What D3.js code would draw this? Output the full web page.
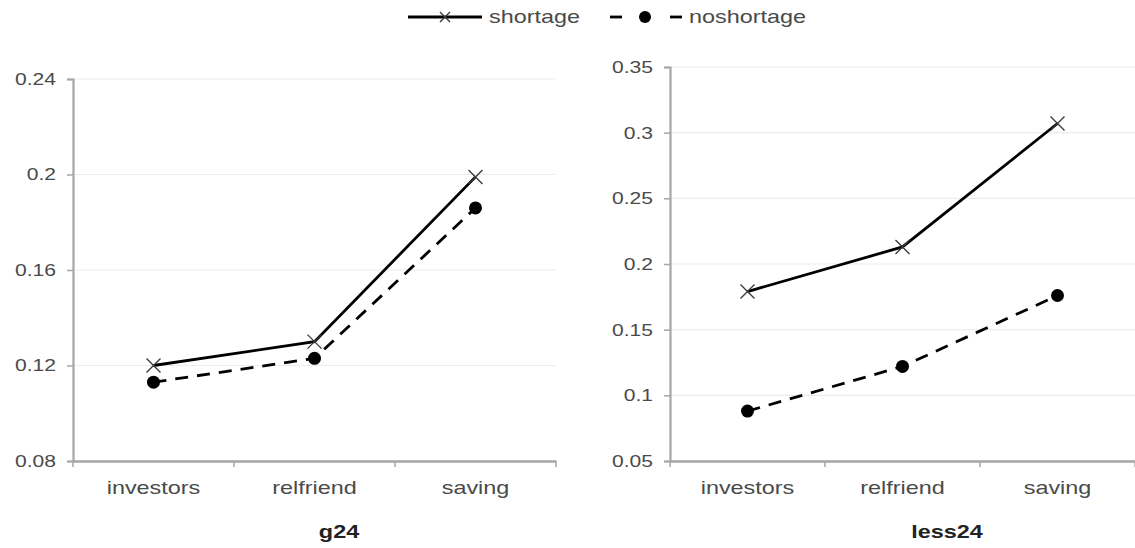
<!DOCTYPE html>
<html>
<head>
<meta charset="utf-8">
<script src="https://cdn.jsdelivr.net/npm/d3@7"></script>
<style>
  html, body { margin: 0; padding: 0; background: #fff; }
  svg { display: block; font-family: "Liberation Sans", Arial, sans-serif; }
</style>
</head>
<body>
<svg id="chart" width="1135" height="548"></svg>
<script>
const categories = ["investors", "relfriend", "saving"];
const seriesNames = ["shortage", "noshortage"];
const panelTitles = ["g24", "less24"];
const g24Shortage = [0.120, 0.130, 0.199];
const g24NoShortage = [0.113, 0.123, 0.186];
const less24Shortage = [0.179, 0.213, 0.307];
const less24NoShortage = [0.088, 0.122, 0.176];
const g24Ticks = [0.08, 0.12, 0.16, 0.2, 0.24];
const less24Ticks = [0.05, 0.1, 0.15, 0.2, 0.25, 0.3, 0.35];

const svg = d3.select("#chart");

const panels = [
  { title: panelTitles[0], s: g24Shortage, n: g24NoShortage, ticks: g24Ticks,
    domain: [0.08, 0.24], x0: 73, x1: 556, y0: 461, y1: 79, titleX: 339 },
  { title: panelTitles[1], s: less24Shortage, n: less24NoShortage, ticks: less24Ticks,
    domain: [0.05, 0.35], x0: 670, x1: 1135, y0: 461, y1: 67, titleX: 947 }
];

const axisColor = "#a6a6a6";
const textColor = "#4a4a4a";
const SX = 1.3;   // horizontal stretch of the reference's text

function xMarker(g, cx, cy, r) {
  g.append("path")
    .attr("d", `M${cx - r},${cy - r}L${cx + r},${cy + r}M${cx - r},${cy + r}L${cx + r},${cy - r}`)
    .attr("stroke", "#3a3a3a").attr("stroke-width", 1.4).attr("fill", "none");
}

function stretchedText(g, x, y, txt, size, anchor, weight, fill) {
  g.append("text")
    .attr("transform", `translate(${x},${y}) scale(${SX},1)`)
    .attr("text-anchor", anchor).attr("font-size", size)
    .attr("font-weight", weight).attr("fill", fill).text(txt);
}

panels.forEach(p => {
  const x = d3.scaleBand().domain(categories).range([p.x0, p.x1]);
  const y = d3.scaleLinear().domain(p.domain).range([p.y0, p.y1]);
  const g = svg.append("g");

  // gridlines
  g.selectAll("line.grid").data(p.ticks.slice(1)).enter().append("line")
    .attr("x1", p.x0).attr("x2", p.x1)
    .attr("y1", d => y(d)).attr("y2", d => y(d))
    .attr("stroke", "#ececec").attr("stroke-width", 1.2);

  // y axis
  const yAxis = g.append("g").attr("transform", `translate(${p.x0},0)`)
    .call(d3.axisLeft(y).tickValues(p.ticks).tickSize(6).tickPadding(0).tickFormat(d => String(+d.toFixed(2))));
  yAxis.select(".domain").attr("stroke", axisColor).attr("stroke-width", 2.2);
  yAxis.selectAll(".tick line").attr("stroke", axisColor).attr("stroke-width", 1.5);
  yAxis.selectAll(".tick text").attr("fill", textColor).attr("font-size", 17)
    .attr("x", null).attr("transform", `translate(-17,0) scale(1.24,1)`);

  // x axis
  const xAxis = g.append("g").attr("transform", `translate(0,${p.y0})`)
    .call(d3.axisBottom(x).tickSize(0).tickPadding(0));
  xAxis.select(".domain").attr("stroke", axisColor).attr("stroke-width", 2.5);
  xAxis.selectAll(".tick text").attr("fill", textColor).attr("font-size", 18)
    .attr("y", null).attr("dy", null)
    .attr("transform", `translate(0,33) scale(${SX},1)`);
  // category boundary ticks
  const bounds = categories.map(c => x(c)).concat([p.x1]);
  g.selectAll("line.xt").data(bounds).enter().append("line")
    .attr("x1", d => d).attr("x2", d => d)
    .attr("y1", p.y0).attr("y2", p.y0 + 6)
    .attr("stroke", axisColor).attr("stroke-width", 1.5);

  const cx = c => x(c) + x.bandwidth() / 2;
  const line = d3.line().x((d, i) => cx(categories[i])).y(d => y(d));

  g.append("path").datum(p.s).attr("d", line)
    .attr("fill", "none").attr("stroke", "#000").attr("stroke-width", 2.8);
  g.append("path").datum(p.n).attr("d", line)
    .attr("fill", "none").attr("stroke", "#000").attr("stroke-width", 2.8)
    .attr("stroke-dasharray", "13,9");

  p.s.forEach((v, i) => xMarker(g, cx(categories[i]), y(v), 7));
  g.selectAll("circle.n").data(p.n).enter().append("circle")
    .attr("cx", (d, i) => cx(categories[i])).attr("cy", d => y(d)).attr("r", 6.5)
    .attr("fill", "#000");

  stretchedText(g, p.titleX, 538, p.title, 18, "middle", "bold", "#222");
});

// legend
const lg = svg.append("g");
lg.append("line").attr("x1", 408).attr("x2", 482).attr("y1", 17).attr("y2", 17)
  .attr("stroke", "#000").attr("stroke-width", 2.8);
xMarker(lg, 445, 17, 5);
stretchedText(lg, 489, 23, seriesNames[0], 18, "start", "normal", textColor);
lg.append("line").attr("x1", 610).attr("x2", 622).attr("y1", 17).attr("y2", 17)
  .attr("stroke", "#000").attr("stroke-width", 2.8);
lg.append("line").attr("x1", 670).attr("x2", 682).attr("y1", 17).attr("y2", 17)
  .attr("stroke", "#000").attr("stroke-width", 2.8);
lg.append("circle").attr("cx", 645).attr("cy", 17).attr("r", 6).attr("fill", "#000");
stretchedText(lg, 689, 23, seriesNames[1], 18, "start", "normal", textColor);
</script>
</body>
</html>
